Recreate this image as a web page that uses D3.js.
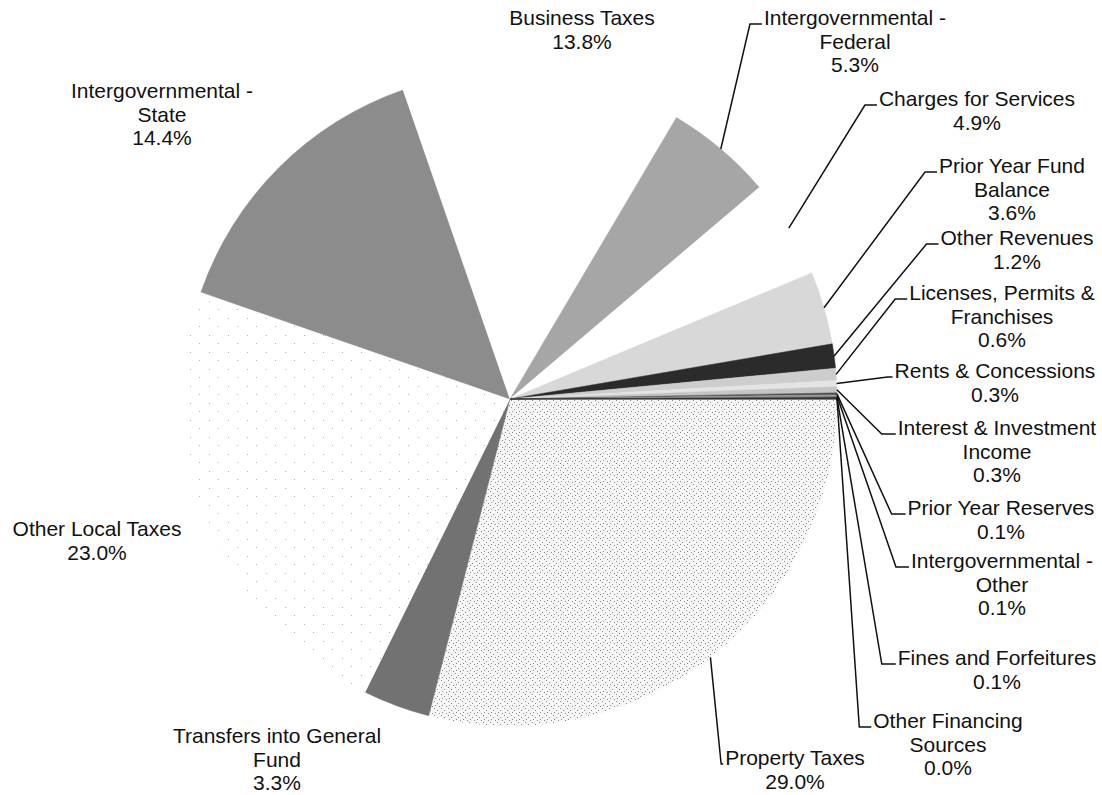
<!DOCTYPE html>
<html>
<head>
<meta charset="utf-8">
<script src="https://cdn.jsdelivr.net/npm/d3@7"></script>
<style>
  body { margin: 0; background: #fff; }
  svg { display: block; }
  text { font-family: "Liberation Sans", Arial, sans-serif; font-size: 21px; fill: #111; }
</style>
</head>
<body>
<svg id="chart" width="1102" height="795"></svg>
<script>
// revenue sources, clockwise from 3 o'clock
const categories = [
  "Property Taxes",
  "Transfers into General\nFund",
  "Other Local Taxes",
  "Intergovernmental -\nState",
  "Business Taxes",
  "Intergovernmental -\nFederal",
  "Charges for Services",
  "Prior Year Fund\nBalance",
  "Other Revenues",
  "Licenses, Permits &\nFranchises",
  "Rents & Concessions",
  "Interest & Investment\nIncome",
  "Prior Year Reserves",
  "Intergovernmental -\nOther",
  "Fines and Forfeitures",
  "Other Financing\nSources"
];
const shares = [29.0, 3.3, 23.0, 14.4, 13.8, 5.3, 4.9, 3.6, 1.2, 0.6, 0.3, 0.3, 0.1, 0.1, 0.1, 0.0];

// grey tones of the scanned fills (url() = stipple pattern)
const fills = ["url(#dots)", "#727272", "url(#sparse)", "#8c8c8c", "#ffffff", "#a6a6a6", "#ffffff", "#d8d8d8",
               "#2b2b2b", "#cdcdcd", "#e4e4e4", "#c4c4c4", "#505050", "#9a9a9a", "#404040", "#222222"];

// label layout: centre x, first baseline, leader flag, elbow gap
const labelX = [795, 277, 97, 162, 582, 855, 977, 1012, 1017, 1002, 995, 997, 1001, 1002, 997, 948];
const labelY = [765, 743, 536, 98, 25, 25, 106, 173, 245, 300, 378, 435, 515, 568, 665, 728];
const hasLeader = [1, 0, 0, 0, 0, 1, 1, 1, 1, 1, 1, 1, 1, 1, 1, 1];
const elbowGap = [4, 0, 0, 0, 0, 14, 14, 14, 14, 14, 7, 16, 16, 15, 16, 14];

const cx = 510, cy = 399, radius = 327, lineH = 23.5;

const svg = d3.select("#chart");

// stipple patterns, like the scanned print
const defs = svg.append("defs");
const dots = defs.append("pattern").attr("id", "dots")
  .attr("patternUnits", "userSpaceOnUse").attr("width", 7).attr("height", 7);
dots.append("rect").attr("width", 7).attr("height", 7).attr("fill", "#f7f7f7");
[[1, 1], [4, 3], [2, 5], [6, 6]].forEach(([x, y]) =>
  dots.append("rect").attr("x", x).attr("y", y).attr("width", 1).attr("height", 1).attr("fill", "#8a8a8a"));
const sparse = defs.append("pattern").attr("id", "sparse")
  .attr("patternUnits", "userSpaceOnUse").attr("width", 19).attr("height", 17);
sparse.append("rect").attr("width", 19).attr("height", 17).attr("fill", "#fff");
[[3, 4], [12, 12]].forEach(([x, y]) =>
  sparse.append("rect").attr("x", x).attr("y", y).attr("width", 1).attr("height", 1).attr("fill", "#b0b0b0"));

const g = svg.append("g").attr("transform", `translate(${cx},${cy})`);

const data = categories.map((c, i) => ({ name: c, value: shares[i], i }));

const pie = d3.pie()
  .value(d => d.value)
  .sort(null)
  .startAngle(Math.PI / 2)
  .endAngle(Math.PI / 2 + 2 * Math.PI);

const arcs = pie(data);
const arc = d3.arc().innerRadius(0).outerRadius(radius);
const rim = d3.arc().innerRadius(radius).outerRadius(radius);

g.selectAll(".slice")
  .data(arcs)
  .enter()
  .append("path")
  .attr("class", "slice")
  .attr("d", arc)
  .attr("fill", d => fills[d.data.i])
  .attr("stroke", d => fills[d.data.i].startsWith("url") ? "none" : fills[d.data.i])
  .attr("stroke-width", 0.5);

// labels
const fmt = d3.format(".1f");
const labels = svg.append("g");

data.forEach((d, i) => {
  const lines = d.name.split("\n").concat([fmt(d.value) + "%"]);
  const t = labels.append("text")
    .attr("text-anchor", "middle")
    .attr("x", labelX[i])
    .attr("y", labelY[i]);
  lines.forEach((s, k) => {
    t.append("tspan")
      .attr("x", labelX[i])
      .attr("y", labelY[i] + k * lineH)
      .text(s);
  });

  if (hasLeader[i]) {
    const firstW = t.select("tspan").node().getComputedTextLength();
    const left = labelX[i] - firstW / 2;
    const ey = labelY[i] - 1;
    const ex = left - elbowGap[i];
    const [px, py] = rim.centroid(arcs[i]);
    labels.append("path")
      .attr("d", d3.line()([[cx + px, cy + py], [ex, ey], [left - 2, ey]]))
      .attr("fill", "none")
      .attr("stroke", "#111")
      .attr("stroke-width", 1.5);
  }
});
</script>
</body>
</html>
